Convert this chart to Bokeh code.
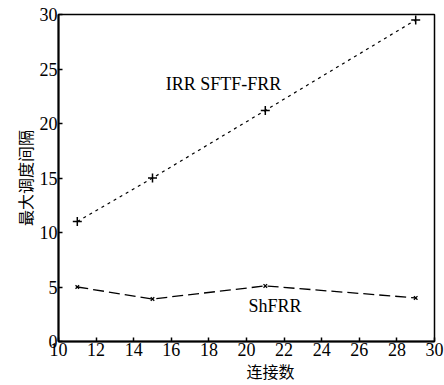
from bokeh.plotting import figure
from bokeh.models import Range1d, Label, FixedTicker
from bokeh.embed import file_html
from bokeh.resources import INLINE

connections = [11, 15, 21, 29]
irr_sftf_frr = [11.0, 15.0, 21.2, 29.5]
shfrr = [5.0, 3.9, 5.1, 4.0]
x_ticks = [10, 12, 14, 16, 18, 20, 22, 24, 26, 28, 30]
y_ticks = [0, 5, 10, 15, 20, 25, 30]

p = figure(width=444, height=385, output_backend="svg", toolbar_location=None,
           x_range=Range1d(10, 30), y_range=Range1d(0, 30),
           min_border_left=58, min_border_right=10, min_border_top=14, min_border_bottom=40)
p.background_fill_color = "white"
p.border_fill_color = "white"
p.grid.visible = False
p.outline_line_color = "black"
p.outline_line_width = 1.5

p.line(connections, irr_sftf_frr, line_color="black", line_width=1.2, line_dash="3 4")
p.scatter(connections, irr_sftf_frr, marker="cross", size=9, line_color="black", line_width=1.5)
p.line(connections, shfrr, line_color="black", line_width=1.3, line_dash="11 5")
p.scatter(connections, shfrr, marker="x", size=5, line_color="black", line_width=1.3)

for ax in (p.xaxis[0], p.yaxis[0]):
    ax.axis_line_width = 2
    ax.axis_line_color = "black"
    ax.major_tick_in = 4
    ax.major_tick_out = 0
    ax.minor_tick_line_color = None
    ax.major_tick_line_width = 1.5
    ax.major_label_text_font = "Liberation Serif"
    ax.major_label_text_font_size = "18px"
    ax.major_label_text_color = "black"
    ax.major_label_standoff = 1
    ax.axis_label_text_font = "Noto Sans CJK SC"
    ax.axis_label_text_font_size = "16px"
    ax.axis_label_text_font_style = "normal"
    ax.axis_label_text_color = "black"
    ax.axis_label_standoff = 0

p.xaxis.ticker = FixedTicker(ticks=x_ticks)
p.yaxis.ticker = FixedTicker(ticks=y_ticks)
p.xaxis.axis_label = "\u3000\u3000\u3000连接数"
p.yaxis.axis_label = "最大调度间隔"

p.add_layout(Label(x=15.7, y=23.6, text="IRR SFTF-FRR", text_font="Liberation Serif",
                   text_font_size="18px", text_baseline="middle", text_color="black"))
p.add_layout(Label(x=20.1, y=3.3, text="ShFRR", text_font="Liberation Serif",
                   text_font_size="18px", text_baseline="middle", text_color="black"))

open("out.html", "w").write(file_html(p, INLINE))
